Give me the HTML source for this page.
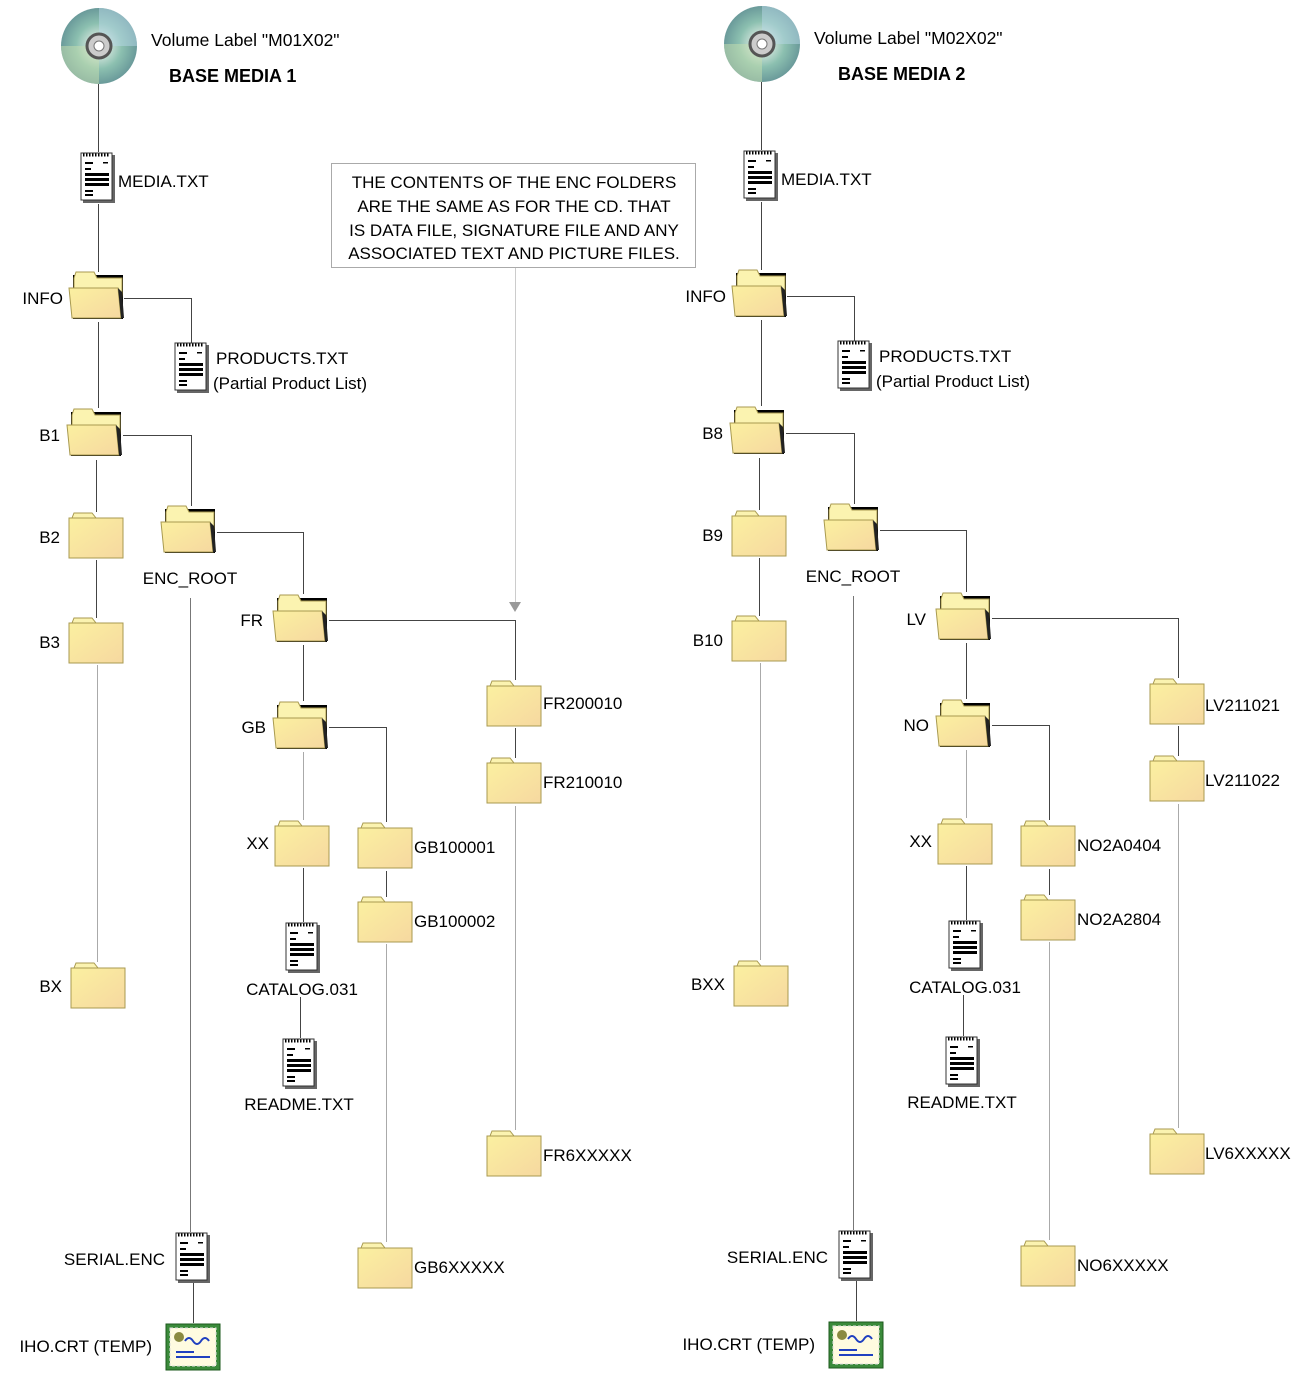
<!DOCTYPE html>
<html><head><meta charset="utf-8"><style>
html,body{margin:0;padding:0;background:#fff}
svg{display:block}
text{font-family:"Liberation Sans",Arial,sans-serif;font-size:17px;fill:#000}
</style></head><body>
<svg width="1308" height="1400" viewBox="0 0 1308 1400" xmlns="http://www.w3.org/2000/svg">
<defs>
<linearGradient id="fy" x1="0" y1="0" x2="1" y2="1">
<stop offset="0" stop-color="#fbf0a0"/><stop offset="1" stop-color="#f6d8a0"/></linearGradient>
<radialGradient id="cdg" cx="0.5" cy="0.5" r="0.5">
<stop offset="0.2" stop-color="#d8e8e0"/><stop offset="0.6" stop-color="#8cc0b0"/><stop offset="1" stop-color="#6a9a9a"/></radialGradient>
<symbol id="cf" viewBox="0 0 57 48" width="57" height="48">
<path d="M4 6 L6 1 L24 1 L28 6 Z" fill="#fbf3b0" stroke="#a89a50"/>
<rect x="1" y="6" width="54" height="40" fill="url(#fy)" stroke="#a89a50"/>
</symbol>
<symbol id="of" viewBox="0 0 57 52" width="57" height="52">
<rect x="5" y="5" width="50" height="44" fill="#000"/>
<path d="M6 8 L8 2 L26 2 L29 8 L54 8 L54 44 L6 44 Z" fill="#fbf3b0" stroke="#a89a50"/>
<path d="M1 18 L50 18 L53 48 L4 48 Z" fill="url(#fy)" stroke="#a89a50"/>
<path d="M50 18 L53 48 L56 48 L54 22 Z" fill="#222"/>
</symbol>
<symbol id="doc" viewBox="0 0 36 52" width="36" height="52">
<rect x="3" y="3" width="32" height="48" fill="#666"/>
<rect x="1" y="1" width="31" height="47" fill="#fff" stroke="#333"/>
<path d="M3 3 h27" stroke="#000" stroke-width="3" stroke-dasharray="1.5 1.5"/>
<g fill="#000"><rect x="5" y="10" width="8" height="2"/><rect x="23" y="10" width="5" height="1.5"/>
<rect x="5" y="16" width="6" height="2"/><rect x="5" y="21" width="24" height="3"/><rect x="5" y="26" width="24" height="3"/>
<rect x="5" y="31" width="24" height="3"/><rect x="5" y="38" width="8" height="2"/><rect x="5" y="42" width="8" height="2"/></g>
</symbol>
<symbol id="cd" viewBox="0 0 80 80" width="80" height="80">
<circle cx="40" cy="40" r="38" fill="url(#cdg)"/>
<path d="M40 2 A38 38 0 0 1 78 40 L40 40Z" fill="#b8d8e8" opacity="0.5"/>
<path d="M40 78 A38 38 0 0 1 2 40 L40 40Z" fill="#c8e0b0" opacity="0.5"/>
<circle cx="40" cy="40" r="12" fill="#ccc" stroke="#555" stroke-width="3"/>
<circle cx="40" cy="40" r="5" fill="#fff" stroke="#777"/>
</symbol>
<symbol id="crt" viewBox="0 0 56 48" width="56" height="48">
<rect x="1" y="1" width="54" height="46" fill="#3a8a3a" stroke="#1d5a1d"/>
<rect x="5" y="5" width="46" height="38" fill="#fffbe0" stroke="#ddd" stroke-dasharray="3 2"/>
<circle cx="14" cy="14" r="5" fill="#8a8a40"/>
<path d="M20 18 q4 -6 8 0 t8 0 t8 0" stroke="#2040c0" fill="none" stroke-width="2"/>
<rect x="11" y="28" width="18" height="2" fill="#2040c0"/><rect x="11" y="33" width="34" height="2" fill="#2040c0"/>
</symbol>
</defs>

<rect x="331.5" y="163.5" width="364" height="104" fill="#fff" stroke="#aaa"/>
<g text-anchor="middle">
<text x="514" y="188">THE CONTENTS OF THE ENC FOLDERS</text>
<text x="514" y="212">ARE THE SAME AS FOR THE CD. THAT</text>
<text x="514" y="236">IS DATA FILE, SIGNATURE FILE AND ANY</text>
<text x="514" y="259">ASSOCIATED TEXT AND PICTURE FILES.</text>
</g>
<line x1="515.5" y1="268" x2="515.5" y2="604" stroke="#ccc"/>
<path d="M509 602 L521 602 L515 612 Z" fill="#999"/>

<g id="L">
<g fill="none" stroke="#444" stroke-width="1">
<path d="M98.5 80 V152"/>
<path d="M98.5 204 V272"/>
<path d="M124 298.5 H191.5 V343"/>
<path d="M98.5 322 V408"/>
<path d="M123 435.5 H191.5 V506"/>
<path d="M96.5 460 V512"/>
<path d="M96.5 560 V618"/>
<path d="M217 532.5 H303.5 V594"/>
<path d="M329 620.5 H515.5 V680"/>
<path d="M515.5 728 V758"/>
<path d="M303.5 645 V701"/>
<path d="M329 727.5 H386.5 V822"/>
<path d="M386.5 871 V897"/>
<path d="M303.5 868 V922"/>
<path d="M300.5 997 V1038"/>
<path d="M193.5 1283 V1323"/>
</g>
<g fill="none" stroke="#aaa">
<path d="M97.5 665 V962"/>
<path d="M515.5 806 V1130"/>
<path d="M386.5 944 V1242"/>
<path d="M303.5 752 V820"/>
<path d="M190.5 598 V1232" stroke="#777"/>
</g>
<use href="#cd" x="59" y="6"/>
<use href="#doc" x="80" y="152"/>
<use href="#of" x="68" y="270"/>
<use href="#doc" x="174" y="342"/>
<use href="#of" x="66" y="407"/>
<use href="#cf" x="68" y="512"/>
<use href="#cf" x="68" y="617"/>
<use href="#cf" x="70" y="962"/>
<use href="#of" x="160" y="504"/>
<use href="#of" x="272" y="593"/>
<use href="#of" x="272" y="700"/>
<use href="#cf" x="486" y="680"/>
<use href="#cf" x="486" y="757"/>
<use href="#cf" x="486" y="1130"/>
<use href="#cf" x="357" y="822"/>
<use href="#cf" x="357" y="896"/>
<use href="#cf" x="357" y="1242"/>
<use href="#cf" x="274" y="820"/>
<use href="#doc" x="285" y="922"/>
<use href="#doc" x="282" y="1038"/>
<use href="#doc" x="175" y="1232"/>
<use href="#crt" x="165" y="1323"/>
</g>
<g>
<text x="151" y="46" style="font-size:17.5px">Volume Label "M01X02"</text>
<text x="169" y="82" font-weight="bold" style="font-size:18px">BASE MEDIA 1</text>
<text x="118" y="187">MEDIA.TXT</text>
<text x="216" y="364">PRODUCTS.TXT</text>
<text x="213" y="389">(Partial Product List)</text>
<text x="190" y="584" text-anchor="middle">ENC_ROOT</text>
<text x="543" y="709">FR200010</text>
<text x="543" y="788">FR210010</text>
<text x="543" y="1161">FR6XXXXX</text>
<text x="414" y="853">GB100001</text>
<text x="414" y="927">GB100002</text>
<text x="414" y="1273">GB6XXXXX</text>
<text x="302" y="995" text-anchor="middle">CATALOG.031</text>
<text x="299" y="1110" text-anchor="middle">README.TXT</text>
<g text-anchor="end">
<text x="63" y="304">INFO</text>
<text x="60" y="441">B1</text>
<text x="60" y="543">B2</text>
<text x="60" y="648">B3</text>
<text x="62" y="992">BX</text>
<text x="263" y="626">FR</text>
<text x="266" y="733">GB</text>
<text x="269" y="849">XX</text>
<text x="165" y="1265">SERIAL.ENC</text>
<text x="152" y="1352">IHO.CRT (TEMP)</text>
</g>
</g>

<use href="#L" x="663" y="-2"/>
<g>
<text x="814" y="44" style="font-size:17.5px">Volume Label "M02X02"</text>
<text x="838" y="80" font-weight="bold" style="font-size:18px">BASE MEDIA 2</text>
<text x="781" y="185">MEDIA.TXT</text>
<text x="879" y="362">PRODUCTS.TXT</text>
<text x="876" y="387">(Partial Product List)</text>
<text x="853" y="582" text-anchor="middle">ENC_ROOT</text>
<text x="1205" y="711">LV211021</text>
<text x="1205" y="786">LV211022</text>
<text x="1205" y="1159">LV6XXXXX</text>
<text x="1077" y="851">NO2A0404</text>
<text x="1077" y="925">NO2A2804</text>
<text x="1077" y="1271">NO6XXXXX</text>
<text x="965" y="993" text-anchor="middle">CATALOG.031</text>
<text x="962" y="1108" text-anchor="middle">README.TXT</text>
<g text-anchor="end">
<text x="726" y="302">INFO</text>
<text x="723" y="439">B8</text>
<text x="723" y="541">B9</text>
<text x="723" y="646">B10</text>
<text x="725" y="990">BXX</text>
<text x="926" y="625">LV</text>
<text x="929" y="731">NO</text>
<text x="932" y="847">XX</text>
<text x="828" y="1263">SERIAL.ENC</text>
<text x="815" y="1350">IHO.CRT (TEMP)</text>
</g>
</g>
</svg>
</body></html>
